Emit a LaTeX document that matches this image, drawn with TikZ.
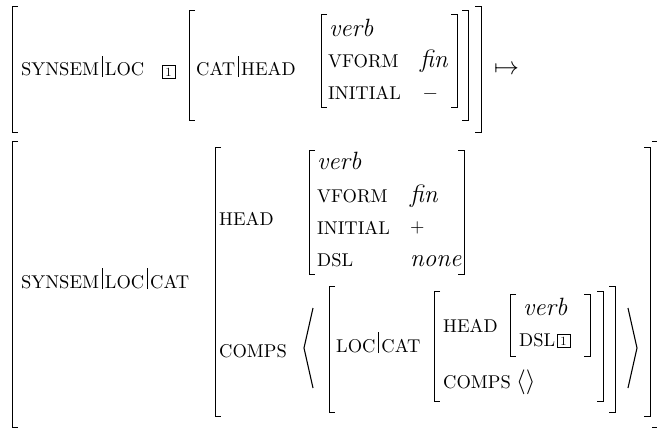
\documentclass[tikz,border=0pt]{standalone}
\font\scf="[lmroman10-regular]:mapping=tex-text" at 18.5pt
\font\tagf="[lmroman10-regular]" at 12.5pt
\newcommand\avmfont{\fontsize{25}{30}\selectfont}
\newcommand\smc[1]{{\scf #1}}
\newcommand\smallop[1]{\raisebox{1.5pt}{\scf #1}}
\newcommand\avmbar{\hspace{2.5pt}\rule[-1pt]{0.9pt}{21pt}\hspace{2.5pt}}
\newcommand\mylb[3]{\draw[brk] ({#1+6},#2) -- (#1,#2) -- (#1,#3) -- ({#1+6},#3);}
\newcommand\myrb[3]{\draw[brk] ({#1-6},#2) -- (#1,#2) -- (#1,#3) -- ({#1-6},#3);}
\begin{document}
\begin{tikzpicture}[x=1pt,y=-1pt,
  brk/.style={line width=1pt},
  ang/.style={line width=1.1pt,line join=miter},
  lbl/.style={anchor=base west,inner sep=0pt,font=\avmfont},
  tagbox/.style={draw,line width=0.6pt,minimum width=13pt,minimum height=12.5pt,inner sep=0pt,font=\tagf}]
\useasboundingbox (0,0) rectangle (657,428);
% ---- upper AVM
\node[lbl] (t1) at (21,76) {\smc{SYNSEM}\avmbar\smc{LOC}};
\node[tagbox] (tag1) at (168.5,72) {1};
\node[lbl] (t2) at (196,76) {\smc{CAT}\avmbar\smc{HEAD}};
\node[lbl] (t3) at (329,37) {\textit{verb}};
\node[lbl] (t4) at (328,68) {\smc{VFORM}};
\node[lbl] (t5) at (420,68) {\textit{fin}};
\node[lbl] (t6) at (328,100) {\smc{INITIAL}};
\node[lbl] (t7) at (423,100) {\smallop{−}};
\node[inner sep=0pt,font=\avmfont] (map) at (506.5,70) {$\mapsto$};
\mylb{12}{7}{133}
\mylb{189}{11}{121}
\mylb{321}{15}{108}
\myrb{457}{15}{108}
\myrb{468}{11}{121}
\myrb{481}{7}{133}
% ---- lower AVM
\node[lbl] (b1) at (21,288) {\smc{SYNSEM}\avmbar\smc{LOC}\avmbar\smc{CAT}};
\node[lbl] (b2) at (219,225) {\smc{HEAD}};
\node[lbl] (b3) at (219,357) {\smc{COMPS}};
\node[lbl] (b4) at (317,169) {\textit{verb}};
\node[lbl] (b5) at (317,202) {\smc{VFORM}};
\node[lbl] (b6) at (410,202) {\textit{fin}};
\node[lbl] (b7) at (317,234) {\smc{INITIAL}};
\node[lbl] (b8) at (410,234) {\smallop{+}};
\node[lbl] (b9) at (317,266) {\smc{DSL}};
\node[lbl] (b10) at (410,266) {\textit{none}};
\node[lbl] (c1) at (336,352) {\smc{LOC}\avmbar\smc{CAT}};
\node[lbl] (c2) at (443,332) {\smc{HEAD}};
\node[lbl] (c3) at (443,388) {\smc{COMPS}};
\node[lbl] (c4) at (516,388) {$\langle\rangle$};
\node[lbl] (c5) at (523,315) {\textit{verb}};
\node[lbl] (c6) at (519,346) {\smc{DSL}};
\node[tagbox] (tag2) at (563.5,341) {1};
\mylb{12}{142}{427}
\myrb{658}{142}{427}
\mylb{215}{148}{416}
\myrb{650}{148}{416}
\mylb{309}{151}{274}
\myrb{464}{151}{274}
\mylb{329}{286}{412}
\myrb{615}{286}{412}
\mylb{434}{291}{401}
\myrb{603}{291}{401}
\mylb{510}{294}{356}
\myrb{590}{294}{356}
\draw[ang] (313,308) -- (304,348) -- (313,388);
\draw[ang] (628,308) -- (637,348) -- (628,388);
\end{tikzpicture}
\end{document}
